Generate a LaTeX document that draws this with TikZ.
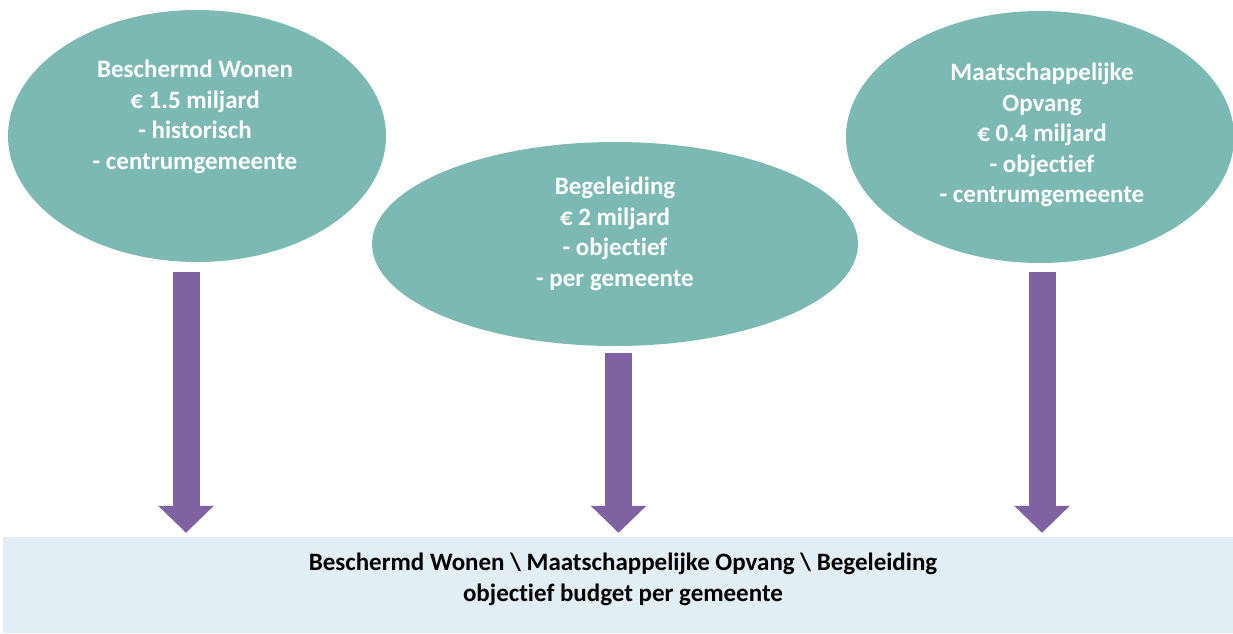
\documentclass[tikz,border=0pt]{standalone}
\usepackage{fontspec}
\setmainfont{Carlito}[Ligatures={NoCommon}]
\usepackage{xcolor}
\usetikzlibrary{arrows.meta, shapes, positioning, calc}

\definecolor{potteal}{HTML}{7DB9B3}
\definecolor{pijlpaars}{HTML}{7E62A1}
\definecolor{vakblauw}{HTML}{E2EEF5}

\tikzset{
    potje/.style={ellipse, fill=potteal, draw=none, inner sep=0pt},
    pottekst/.style={text=white, align=center, font=\fontsize{25}{30.5}\selectfont\bfseries},
    naarbudget/.style={draw=pijlpaars, line width=27pt,
        -{Triangle[length=27pt, width=54pt]}, shorten >=4pt},
}

\begin{document}
\begin{tikzpicture}[x=1pt, y=-1pt]
    \useasboundingbox (0,0) rectangle (1233,633);

    % De drie budgetten
    \node[potje, minimum width=378pt, minimum height=252pt] (bw) at (197,136) {};
    \node[pottekst] (bwtekst) at (195,117) {Beschermd Wonen\\€ 1.5 miljard\\- historisch\\- centrumgemeente};

    \node[potje, minimum width=486pt, minimum height=204pt] (beg) at (615,244) {};
    \node[pottekst] (begtekst) at (615,234) {Begeleiding\\€ 2 miljard\\- objectief\\- per gemeente};

    \node[potje, minimum width=388pt, minimum height=252pt] (mo) at (1040,137) {};
    \node[pottekst] (motekst) at (1042,135) {Maatschappelijke\\Opvang\\€ 0.4 miljard\\- objectief\\- centrumgemeente};

    % Het gezamenlijke budget
    \node[rectangle, fill=vakblauw, draw=none, minimum width=1230pt, minimum height=96pt, inner sep=0pt] (budget) at (618,585) {};
    \node[align=center, font=\fontsize{25}{31}\selectfont\bfseries] (budgettekst) at (623,579)
        {Beschermd Wonen \textbackslash{} Maatschappelijke Opvang \textbackslash{} Begeleiding\\objectief budget per gemeente};

    % Pijlen naar het budget
    \coordinate (bwuit) at (186,272);
    \coordinate (beguit) at (618.5,353);
    \coordinate (mouit) at (1042,272);
    \foreach \uit in {bwuit, beguit, mouit} {
        \draw[naarbudget] (\uit) -- (\uit |- budget.north);
    }
\end{tikzpicture}
\end{document}
